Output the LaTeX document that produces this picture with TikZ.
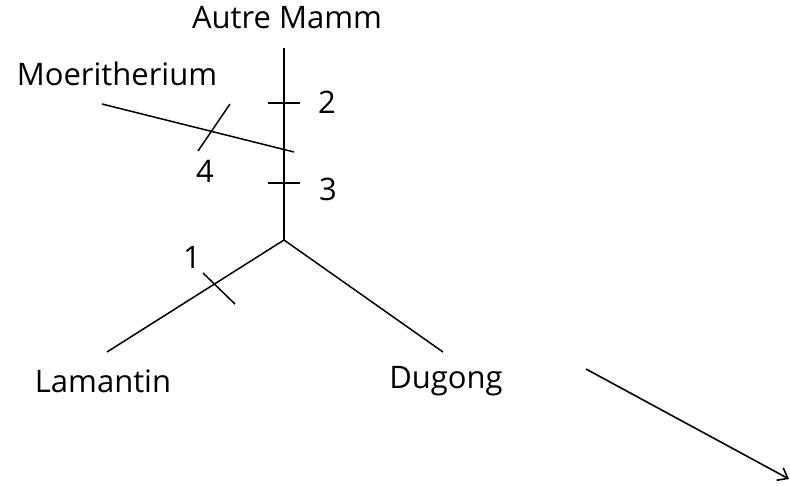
\documentclass[tikz,border=0pt]{standalone}
\usepackage{fontspec}
\setmainfont{Open Sans}
\usepackage{tikz}
\usetikzlibrary{positioning, arrows.meta}

\begin{document}
\begin{tikzpicture}[
  x=1pt, y=-1pt,
  branch/.style={line width=1.5pt},
  tickline/.style={line width=1.5pt},
  taxon/.style={font=\fontsize{31}{36}\selectfont, inner sep=0pt},
  charnum/.style={font=\fontsize{31}{36}\selectfont, inner sep=0pt},
  >={Straight Barb[length=9pt, width=14pt]}
]
  \useasboundingbox (0,0) rectangle (790,485);

  % Tree points
  \coordinate (top) at (284,48);
  \coordinate (root) at (284,240);
  \coordinate (moer) at (102,104);
  \coordinate (join) at (294,152);
  \coordinate (lam) at (107,352);
  \coordinate (dug) at (443,352);

  % Branches
  \draw[branch] (top) -- (root);
  \draw[branch] (moer) -- (join);
  \draw[branch] (root) -- (lam);
  \draw[branch] (root) -- (dug);

  % Ticks
  \coordinate (t2a) at (268,103); \coordinate (t2b) at (300,103);
  \coordinate (t3a) at (268,183); \coordinate (t3b) at (300,183);
  \coordinate (t4a) at (230,104); \coordinate (t4b) at (198,151);
  \coordinate (t1a) at (203,273); \coordinate (t1b) at (235,304);
  \draw[tickline] (t2a) -- (t2b);
  \draw[tickline] (t3a) -- (t3b);
  \draw[tickline] (t4a) -- (t4b);
  \draw[tickline] (t1a) -- (t1b);

  % Labels
  \node[taxon] (autre) at (287,18) {Autre Mamm};
  \node[taxon] (moerlab) at (117,74) {Moeritherium};
  \node[taxon] (lamlab) at (103,381) {Lamantin};
  \node[taxon] (duglab) at (446,381) {Dugong};
  \node[charnum] (m2) at (327,102) {2};
  \node[charnum] (m3) at (328,189) {3};
  \node[charnum] (m4) at (205,171) {4};
  \node[charnum] (m1) at (192,257) {1};

  % Arrow
  \coordinate (arrfrom) at (586,369);
  \coordinate (arrto) at (789,479);
  \draw[->, line width=1.6pt] (arrfrom) -- (arrto);
\end{tikzpicture}
\end{document}
